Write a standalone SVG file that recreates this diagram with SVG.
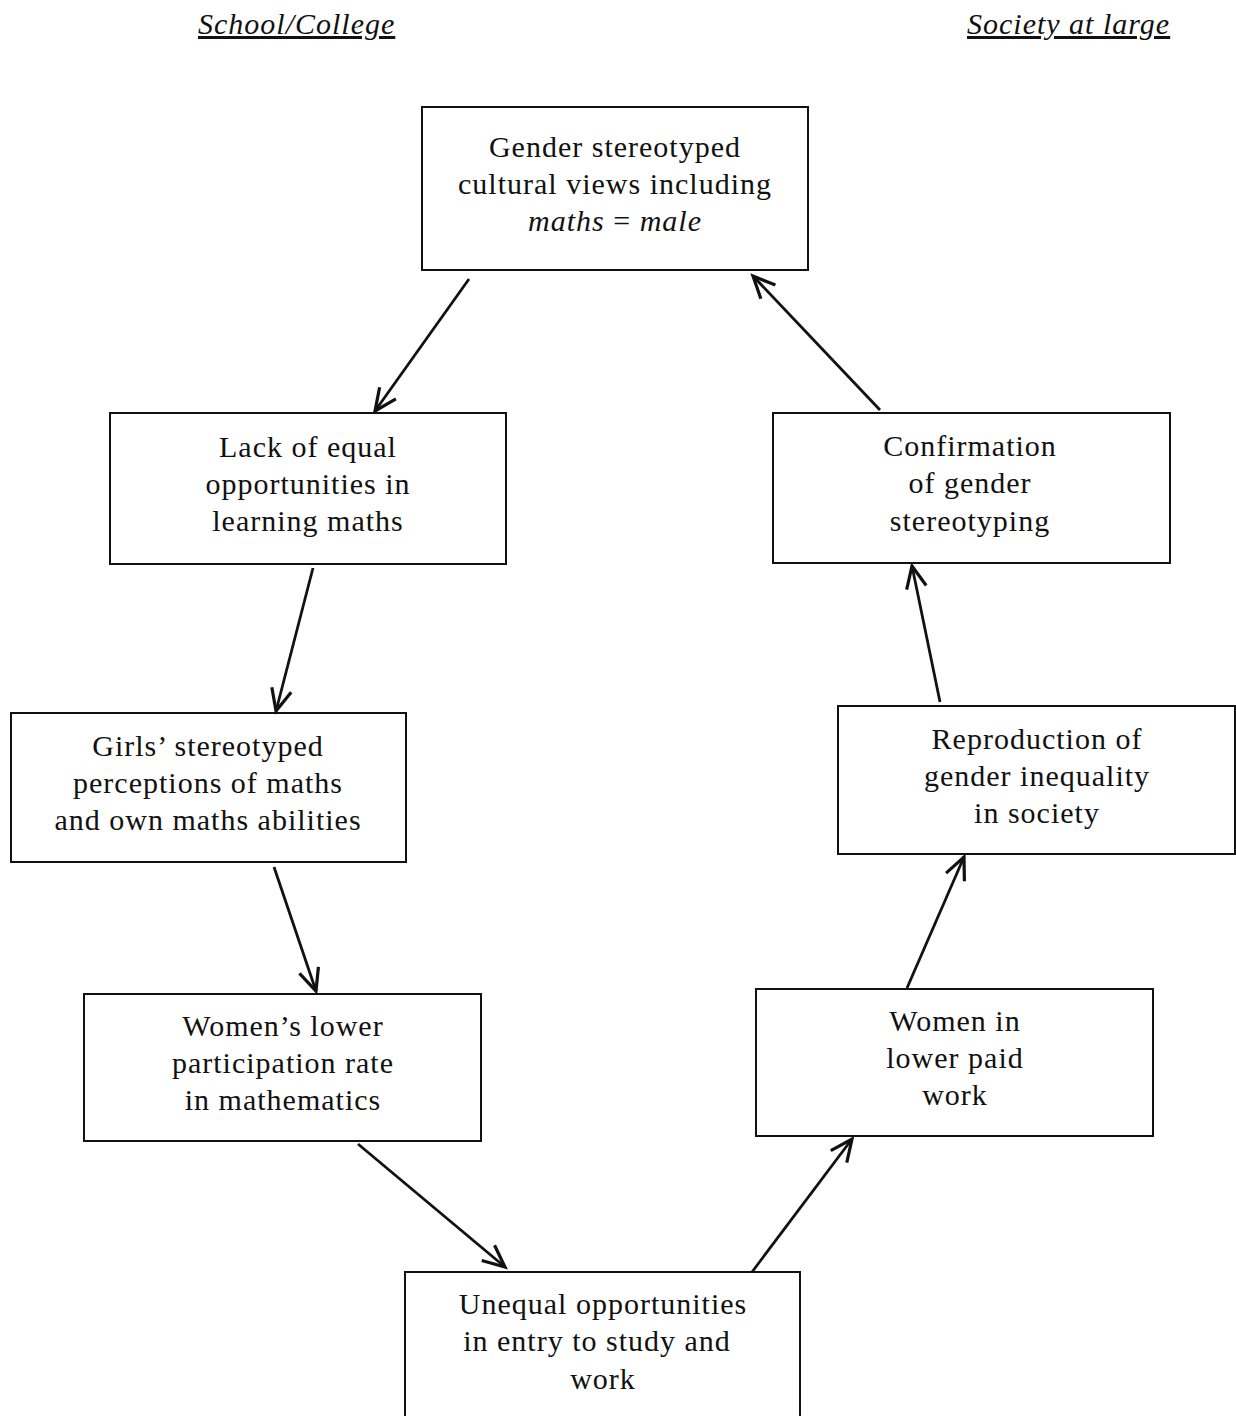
<svg xmlns="http://www.w3.org/2000/svg" width="1236" height="1416" viewBox="0 0 1236 1416">
<style>
.box{fill:#fff;stroke:#111;stroke-width:2}
.t{font-family:"Liberation Serif","Times New Roman",serif;font-size:30px;letter-spacing:1px;fill:#111;text-anchor:middle}
.h{font-family:"Liberation Serif","Times New Roman",serif;font-size:30px;letter-spacing:1px;font-style:italic;fill:#111;text-decoration:underline}
.c{stroke:#111;stroke-width:2.8;fill:none;marker-end:url(#ah)}
</style>
<defs>
<marker id="ah" markerWidth="30" markerHeight="30" refX="26" refY="12" orient="auto" markerUnits="userSpaceOnUse" viewBox="0 0 30 24">
<path d="M4 2 L26 12 L4 22" fill="none" stroke="#111" stroke-width="3.2"/>
</marker>
</defs>
<rect width="1236" height="1416" fill="#fff"/>
<text class="h" x="198" y="34">School/College</text>
<text class="h" x="967" y="34">Society at large</text>
<g id="n1"><rect class="box" x="422" y="107" width="386" height="163"/>
<text class="t" x="615" y="157">Gender stereotyped</text>
<text class="t" x="615" y="194">cultural views including</text>
<text class="t" x="615" y="231"><tspan font-style="italic">maths</tspan> = <tspan font-style="italic">male</tspan></text></g>
<g id="n2"><rect class="box" x="110" y="413" width="396" height="151"/>
<text class="t" x="308" y="457">Lack of equal</text>
<text class="t" x="308" y="494">opportunities in</text>
<text class="t" x="308" y="531">learning maths</text></g>
<g id="n3"><rect class="box" x="11" y="713" width="395" height="149"/>
<text class="t" x="208" y="756">Girls’ stereotyped</text>
<text class="t" x="208" y="793">perceptions of maths</text>
<text class="t" x="208" y="830">and own maths abilities</text></g>
<g id="n4"><rect class="box" x="84" y="994" width="397" height="147"/>
<text class="t" x="283" y="1036">Women’s lower</text>
<text class="t" x="283" y="1073">participation rate</text>
<text class="t" x="283" y="1110">in mathematics</text></g>
<g id="n5"><rect class="box" x="405" y="1272" width="395" height="160"/>
<text class="t" x="603" y="1314">Unequal opportunities</text>
<text class="t" x="597" y="1351">in entry to study and</text>
<text class="t" x="603" y="1389">work</text></g>
<g id="n6"><rect class="box" x="756" y="989" width="397" height="147"/>
<text class="t" x="955" y="1031">Women in</text>
<text class="t" x="955" y="1068">lower paid</text>
<text class="t" x="955" y="1105">work</text></g>
<g id="n7"><rect class="box" x="838" y="706" width="397" height="148"/>
<text class="t" x="1037" y="749">Reproduction of</text>
<text class="t" x="1037" y="786">gender inequality</text>
<text class="t" x="1037" y="823">in society</text></g>
<g id="n8"><rect class="box" x="773" y="413" width="397" height="150"/>
<text class="t" x="970" y="456">Confirmation</text>
<text class="t" x="970" y="493">of gender</text>
<text class="t" x="970" y="531">stereotyping</text></g>
<g id="connectors">
<line class="c" x1="469" y1="279" x2="375" y2="411"/>
<line class="c" x1="313" y1="568" x2="276" y2="711"/>
<line class="c" x1="274" y1="867" x2="316" y2="991"/>
<line class="c" x1="358" y1="1144" x2="505" y2="1267"/>
<line class="c" x1="752" y1="1272" x2="852" y2="1139"/>
<line class="c" x1="907" y1="988" x2="964" y2="857"/>
<line class="c" x1="940" y1="702" x2="912" y2="566"/>
<line class="c" x1="880" y1="410" x2="753" y2="276"/>
</g>
</svg>
